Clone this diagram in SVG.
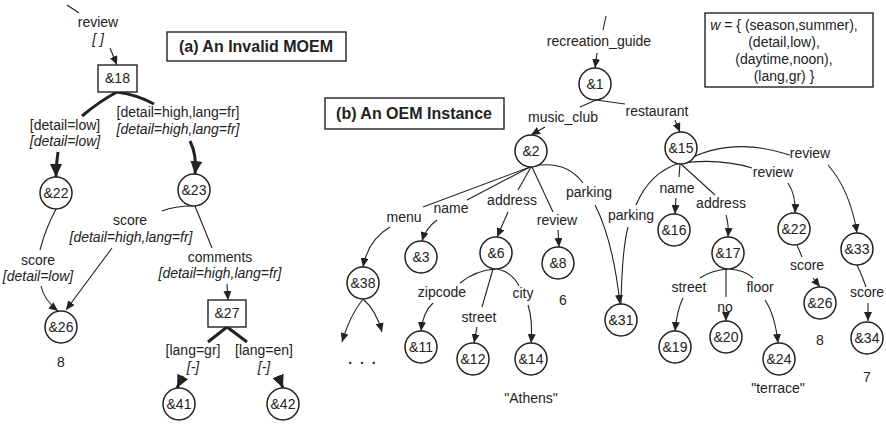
<svg xmlns="http://www.w3.org/2000/svg" width="886" height="424" viewBox="0 0 886 424">
  <style>
    text { font-family: "Liberation Sans", Arial, sans-serif; font-size: 14px; fill: #222; text-anchor: middle; }
    .it { font-style: italic; }
    .title { font-weight: bold; font-size: 16px; }
    .node { fill: #fff; stroke: #222; stroke-width: 1.5; }
    .frame { fill: #fff; stroke: #222; stroke-width: 1.4; }
    .e { fill: none; stroke: #222; stroke-width: 1.1; }
    .eb { fill: none; stroke: #222; stroke-width: 3; }
    .arr { marker-end: url(#ah); }
    .arrb { marker-end: url(#ahb); }
  </style>
  <defs>
    <marker id="ah" markerUnits="userSpaceOnUse" markerWidth="9" markerHeight="8" refX="9" refY="4" orient="auto">
      <path d="M0,0 L9,4 L0,8 z" fill="#222"/>
    </marker>
    <marker id="ahb" markerUnits="userSpaceOnUse" markerWidth="13" markerHeight="12" refX="13" refY="6" orient="auto">
      <path d="M0,0 L13,6 L0,12 z" fill="#222"/>
    </marker>
  </defs>

  <!-- captions -->
  <g id="caption-a">
    <rect class="frame" x="167" y="32" width="179" height="29"/>
    <text class="title" x="256" y="52">(a) An Invalid MOEM</text>
  </g>
  <g id="caption-b">
    <rect class="frame" x="325" y="98" width="179" height="31"/>
    <text class="title" x="414" y="119">(b) An OEM Instance</text>
  </g>
  <g id="world">
    <rect class="frame" x="705" y="13" width="168" height="74"/>
    <text x="784" y="30"><tspan class="it">w</tspan> = { (season,summer),</text>
    <text x="784" y="47">(detail,low),</text>
    <text x="784" y="64">(daytime,noon),</text>
    <text x="784" y="81">(lang,gr) }</text>
  </g>

  <!-- connectors and their labels -->
  <g id="connectors">
    <!-- (a) MOEM -->
    <path class="e" d="M67,5 L79,13"/>
    <path class="e arr" d="M110,48 L117,65"/>
    <path class="eb" d="M82,116 Q100,101 117,92 Q138,95 154,104"/>
    <path class="eb arrb" d="M58,152 Q56,165 56,177"/>
    <path class="eb arrb" d="M190,141 Q197,155 195,174"/>
    <path class="e" d="M56,209 Q45,230 40,250"/>
    <path class="e arr" d="M41,286 Q44,300 58,311"/>
    <path class="e" d="M193,206 Q175,206 162,211"/>
    <path class="e arr" d="M112,248 L66,310"/>
    <path class="e" d="M195,206 L212,248"/>
    <path class="e arr" d="M227,284 L228,300"/>
    <path class="eb" d="M208,342 L227,327 L247,342"/>
    <path class="eb arrb" d="M183,376 L177,388"/>
    <path class="eb arrb" d="M278,376 L283,388"/>

    <text x="98" y="27">review</text>
    <text class="it" x="98" y="44">[ ]</text>
    <text x="65" y="130">[detail=low]</text>
    <text class="it" x="65" y="146">[detail=low]</text>
    <text x="178" y="117">[detail=high,lang=fr]</text>
    <text class="it" x="178" y="134">[detail=high,lang=fr]</text>
    <text x="38" y="265">score</text>
    <text class="it" x="38" y="281">[detail=low]</text>
    <text x="130" y="225">score</text>
    <text class="it" x="131" y="242">[detail=high,lang=fr]</text>
    <text x="220" y="262">comments</text>
    <text class="it" x="220" y="278">[detail=high,lang=fr]</text>
    <text x="193" y="355">[lang=gr]</text>
    <text class="it" x="193" y="372">[-]</text>
    <text x="264" y="355">[lang=en]</text>
    <text class="it" x="264" y="372">[-]</text>

    <!-- (b) OEM instance -->
    <path class="e" d="M606,16 L603,30"/>
    <path class="e arr" d="M597,53 L595,68"/>
    <path class="e" d="M596,100 L580,107"/>
    <path class="e arr" d="M545,127 L531,135"/>
    <path class="e" d="M596,100 L625,104"/>
    <path class="e arr" d="M675,120 L680,132"/>

    <path class="e" d="M530,167 L423,207"/>
    <path class="e arr" d="M390,227 Q368,240 363,267"/>
    <path class="e" d="M530,167 L467,200"/>
    <path class="e arr" d="M437,220 Q426,228 422,241"/>
    <path class="e" d="M531,167 L518,190"/>
    <path class="e arr" d="M508,212 L497,237"/>
    <path class="e" d="M532,167 L553,212"/>
    <path class="e arr" d="M558,230 L559,247"/>
    <path class="e" d="M534,166 Q566,160 583,183"/>
    <path class="e arr" d="M595,205 Q613,240 620,304"/>
    <path class="e" d="M628,227 Q622,250 621,304"/>

    <path class="e arr" d="M363,299 Q350,315 342,342"/>
    <path class="e arr" d="M363,299 Q376,310 382,332"/>

    <path class="e" d="M496,269 Q476,270 460,283"/>
    <path class="e" d="M493,269 L482,307"/>
    <path class="e" d="M497,269 Q512,272 519,286"/>
    <path class="e arr" d="M433,303 Q423,312 421,331"/>
    <path class="e arr" d="M477,327 L474,343"/>
    <path class="e arr" d="M528,305 Q533,320 531,343"/>

    <path class="e" d="M680,163 Q650,172 636,205"/>
    <path class="e" d="M681,163 Q730,135 790,155"/>
    <path class="e arr" d="M828,165 Q850,190 857,233"/>
    <path class="e" d="M681,163 Q720,158 752,168"/>
    <path class="e arr" d="M788,183 Q796,195 795,213"/>
    <path class="e" d="M680,164 L679,177"/>
    <path class="e arr" d="M676,198 L675,214"/>
    <path class="e" d="M681,164 L715,195"/>
    <path class="e arr" d="M726,215 Q729,225 728,237"/>

    <path class="e" d="M797,245 L802,257"/>
    <path class="e arr" d="M813,278 L820,287"/>
    <path class="e" d="M857,265 Q862,275 866,287"/>
    <path class="e arr" d="M868,303 L868,321"/>

    <path class="e" d="M728,269 Q712,270 700,278"/>
    <path class="e" d="M726,269 L726,297"/>
    <path class="e" d="M729,269 Q745,270 753,278"/>
    <path class="e arr" d="M683,298 Q677,310 675,331"/>
    <path class="e arr" d="M726,314 L726,321"/>
    <path class="e arr" d="M765,300 Q775,315 778,343"/>

    <text x="599" y="46">recreation_guide</text>
    <text x="563" y="122">music_club</text>
    <text x="657" y="116">restaurant</text>
    <text x="404" y="222">menu</text>
    <text x="451" y="213">name</text>
    <text x="512" y="205">address</text>
    <text x="557" y="225">review</text>
    <text x="589" y="197">parking</text>
    <text x="631" y="220">parking</text>
    <text x="442" y="297">zipcode</text>
    <text x="479" y="322">street</text>
    <text x="523" y="298">city</text>
    <text x="677" y="193">name</text>
    <text x="721" y="208">address</text>
    <text x="773" y="177">review</text>
    <text x="810" y="158">review</text>
    <text x="807" y="270">score</text>
    <text x="867" y="297">score</text>
    <text x="689" y="292">street</text>
    <text x="725" y="312">no</text>
    <text x="760" y="292">floor</text>
  </g>

  <!-- (a) MOEM nodes -->
  <g id="n18"><rect class="frame" x="98" y="65" width="39" height="27"/><text x="117.5" y="83">&amp;18</text></g>
  <g id="n22a"><circle class="node" cx="56" cy="193" r="16"/><text x="56" y="198">&amp;22</text></g>
  <g id="n23"><circle class="node" cx="194" cy="190" r="16"/><text x="194" y="195">&amp;23</text></g>
  <g id="n26a"><circle class="node" cx="61" cy="327" r="16"/><text x="61" y="332">&amp;26</text><text x="61" y="367">8</text></g>
  <g id="n27"><rect class="frame" x="208" y="300" width="38" height="27"/><text x="227" y="318">&amp;27</text></g>
  <g id="n41"><circle class="node" cx="179" cy="404" r="16"/><text x="179" y="409">&amp;41</text></g>
  <g id="n42"><circle class="node" cx="283" cy="404" r="16"/><text x="283" y="409">&amp;42</text></g>

  <!-- (b) OEM nodes -->
  <g id="n1"><circle class="node" cx="595" cy="84" r="16"/><text x="595" y="89">&amp;1</text></g>
  <g id="n2"><circle class="node" cx="531" cy="151" r="16"/><text x="531" y="156">&amp;2</text></g>
  <g id="n15"><circle class="node" cx="681" cy="148" r="16"/><text x="681" y="153">&amp;15</text></g>
  <g id="n38"><circle class="node" cx="363" cy="283" r="16"/><text x="363" y="288">&amp;38</text><text x="363" y="364" style="font-weight:bold;letter-spacing:2px">. . .</text></g>
  <g id="n3"><circle class="node" cx="421" cy="257" r="16"/><text x="421" y="262">&amp;3</text></g>
  <g id="n6"><circle class="node" cx="496" cy="253" r="16"/><text x="496" y="258">&amp;6</text></g>
  <g id="n8"><circle class="node" cx="558" cy="263" r="16"/><text x="558" y="268">&amp;8</text><text x="563" y="305">6</text></g>
  <g id="n11"><circle class="node" cx="421" cy="347" r="16"/><text x="421" y="352">&amp;11</text></g>
  <g id="n12"><circle class="node" cx="473" cy="359" r="16"/><text x="473" y="364">&amp;12</text></g>
  <g id="n14"><circle class="node" cx="531" cy="359" r="16"/><text x="531" y="364">&amp;14</text><text x="531" y="403">"Athens"</text></g>
  <g id="n31"><circle class="node" cx="621" cy="320" r="16"/><text x="621" y="325">&amp;31</text></g>
  <g id="n16"><circle class="node" cx="674" cy="230" r="16"/><text x="674" y="235">&amp;16</text></g>
  <g id="n17"><circle class="node" cx="728" cy="253" r="16"/><text x="728" y="258">&amp;17</text></g>
  <g id="n22b"><circle class="node" cx="794" cy="229" r="16"/><text x="794" y="234">&amp;22</text></g>
  <g id="n33"><circle class="node" cx="857" cy="249" r="16"/><text x="857" y="254">&amp;33</text></g>
  <g id="n26b"><circle class="node" cx="820" cy="303" r="16"/><text x="820" y="308">&amp;26</text><text x="820" y="345">8</text></g>
  <g id="n34"><circle class="node" cx="867" cy="338" r="16"/><text x="867" y="343">&amp;34</text><text x="867" y="382">7</text></g>
  <g id="n19"><circle class="node" cx="675" cy="347" r="16"/><text x="675" y="352">&amp;19</text></g>
  <g id="n20"><circle class="node" cx="726" cy="337" r="16"/><text x="726" y="342">&amp;20</text></g>
  <g id="n24"><circle class="node" cx="779" cy="359" r="16"/><text x="779" y="364">&amp;24</text><text x="778" y="393">"terrace"</text></g>
</svg>
